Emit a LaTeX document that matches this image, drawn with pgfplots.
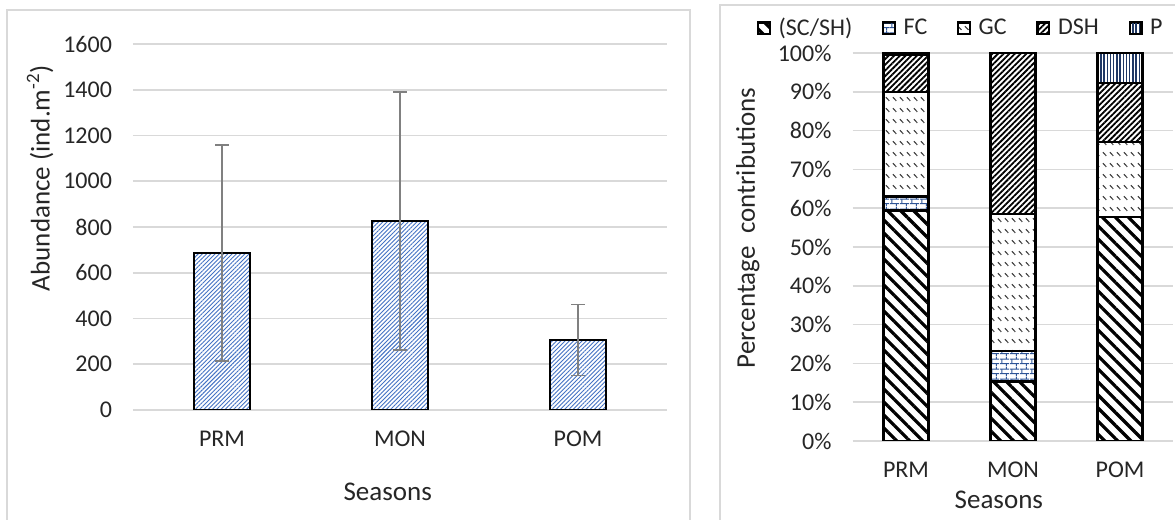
\documentclass[border=0pt]{standalone}
\usepackage{fontspec}
\setmainfont{Carlito}
\usepackage{pgfplots}
\pgfplotsset{compat=1.18}
\usetikzlibrary{patterns,patterns.meta}
\definecolor{barblue}{HTML}{4472C4}
\definecolor{brickblue}{HTML}{2F5597}
\definecolor{pblue}{HTML}{203864}
\definecolor{gridgray}{HTML}{D9D9D9}
\definecolor{txt}{HTML}{262626}
\tikzdeclarepattern{
  name=gcdash,
  type=uncolored,
  bounding box={(0pt,0pt) and (3.6pt,5.4pt)},
  tile size={(3.6pt,5.4pt)},
  code={\draw[line width=0.55pt] (0.5pt,3.9pt) -- (2.4pt,2.1pt);}
}
\tikzdeclarepattern{
  name=mybricks,
  type=uncolored,
  bounding box={(0pt,0pt) and (5pt,4.8pt)},
  tile size={(5pt,4.8pt)},
  code={
    \draw[line width=0.5pt] (0pt,1.2pt) -- (5pt,1.2pt);
    \draw[line width=0.5pt] (0pt,3.6pt) -- (5pt,3.6pt);
    \draw[line width=0.5pt] (1pt,1.2pt) -- (1pt,3.6pt);
    \draw[line width=0.5pt] (3.5pt,3.6pt) -- (3.5pt,4.8pt);
    \draw[line width=0.5pt] (3.5pt,0pt) -- (3.5pt,1.2pt);
  }
}
\pgfplotsset{
  common/.style={
    scale only axis, anchor=south west,
    xmin=-0.5, xmax=2.5, xtick={0,1,2}, xticklabels={PRM,MON,POM},
    ymajorgrids, grid style={draw=gridgray, line width=0.8pt},
    axis line style={draw=none}, major tick length=0pt,
    /pgf/number format/assume math mode=true,
    /pgf/number format/1000 sep={},
    tick label style={font=\fontsize{12}{14}\selectfont, text=txt},
    yticklabel style={anchor=east, xshift=-7pt},
    xticklabel style={yshift=-7pt},
  }
}
\begin{document}
\begin{tikzpicture}
\useasboundingbox (0pt,0pt) rectangle (587.5pt,260pt);
\draw[gridgray, line width=1pt] (3.5pt,-5pt) -- (3.5pt,255pt) -- (345pt,255pt) -- (345pt,-5pt);
\draw[gridgray, line width=1pt] (360pt,-5pt) -- (360pt,257.5pt) -- (595pt,257.5pt);

% ---------- left chart ----------
\begin{axis}[common,
  at={(66.5pt,55pt)},
  width=267pt, height=183pt,
  ymin=0, ymax=1600, ytick={0,200,...,1600},
  ylabel={Abundance (ind.m\textsuperscript{-2})},
  ylabel style={at={(axis description cs:-0.174,0.634)}, anchor=center, font=\fontsize{13.5}{15}\selectfont, text=txt},
  xlabel={Seasons},
  xlabel style={at={(axis description cs:0.477,-0.224)}, anchor=center, font=\fontsize{13.5}{15}\selectfont, text=txt},
  ybar, bar width=28pt,
]
\addplot[draw=black, line width=1.2pt, preaction={fill=white},
  pattern={Lines[angle=45,distance=1.5pt,line width=0.45pt]}, pattern color=barblue,
  error bars/.cd, y dir=both, y explicit,
  error bar style={color=gray, line width=0.8pt},
  error mark options={color=gray, line width=0.8pt, mark size=3.5pt, rotate=90}]
  coordinates {(0,686) +- (0,472) (1,826) +- (0,565) (2,306) +- (0,155)};
\end{axis}

% ---------- right chart ----------
\begin{axis}[common,
  at={(426.25pt,39.5pt)},
  width=160.5pt, height=194pt,
  ybar stacked, bar width=22.5pt,
  ymin=0, ymax=100, ytick={0,10,...,100},
  yticklabel={\pgfmathprintnumber{\tick}\%},
  ylabel={Percentage\ \ contributions},
  ylabel style={at={(axis description cs:-0.326,0.549)}, anchor=center, font=\fontsize{13.5}{15}\selectfont, text=txt},
  xlabel={Seasons},
  xlabel style={at={(axis description cs:0.456,-0.152)}, anchor=center, font=\fontsize{13.5}{15}\selectfont, text=txt},
  legend columns=5,
  legend style={draw=none, fill=none, at={(axis description cs:0.341,1.064)}, anchor=center,
    font=\fontsize{12}{14}\selectfont, text=txt,
    /tikz/every odd column/.append style={column sep=2pt},
    /tikz/every even column/.append style={column sep=13pt}},
  legend image code/.code={\draw[#1, line width=0.9pt] (0pt,-2.9pt) rectangle (5.8pt,2.9pt);},
]
\addplot[draw=black, line width=1.2pt, preaction={fill=white},
  pattern={Lines[angle=-45,distance=4.6pt,line width=1.6pt]}, pattern color=black]
  coordinates {(0,59.4) (1,15.3) (2,57.8)};
\addlegendentry{(SC/SH)}
\addplot[draw=black, line width=1.2pt, preaction={fill=white},
  pattern=mybricks, pattern color=brickblue]
  coordinates {(0,3.6) (1,7.9) (2,0)};
\addlegendentry{FC}
\addplot[draw=black, line width=1.2pt, preaction={fill=white},
  pattern=gcdash, pattern color=black!80]
  coordinates {(0,27.0) (1,35.3) (2,19.3)};
\addlegendentry{GC}
\addplot[draw=black, line width=1.2pt, preaction={fill=white},
  pattern={Lines[angle=45,distance=2pt,line width=0.9pt]}, pattern color=black]
  coordinates {(0,9.5) (1,41.5) (2,15.2)};
\addlegendentry{DSH}
\addplot[draw=black, line width=1.2pt, preaction={fill=white},
  pattern={Lines[angle=90,distance=1.6pt,line width=0.7pt]}, pattern color=pblue]
  coordinates {(0,0.5) (1,0) (2,7.7)};
\addlegendentry{P}
\end{axis}
\end{tikzpicture}
\end{document}
